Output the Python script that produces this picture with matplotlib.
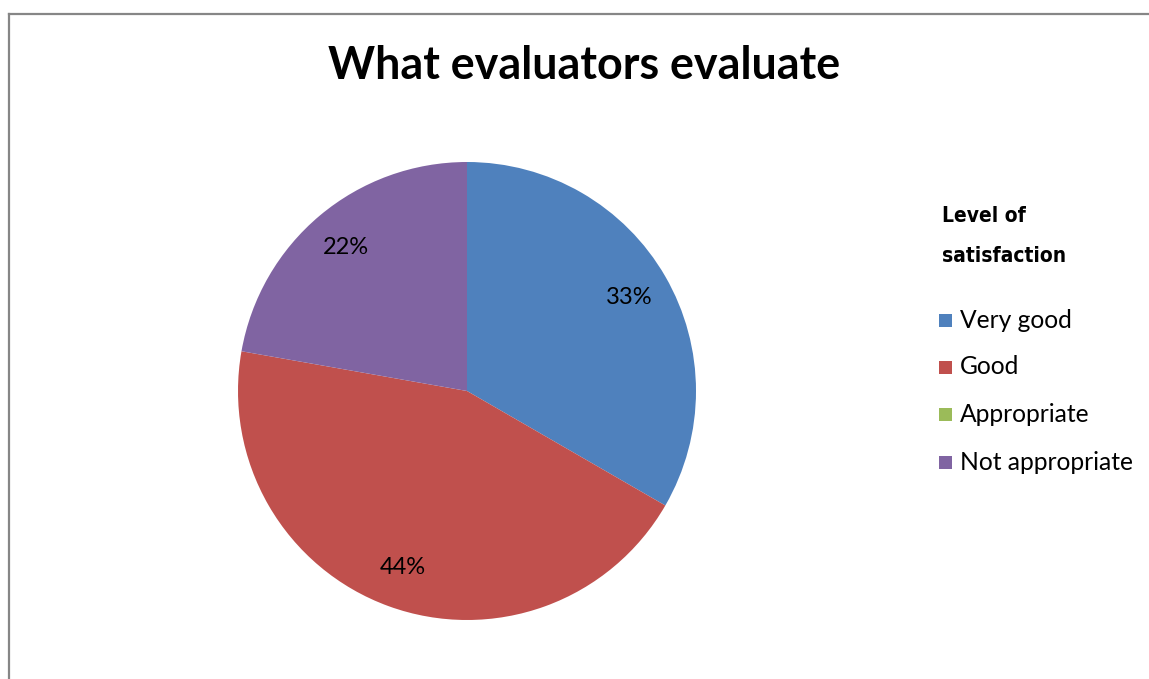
import matplotlib
matplotlib.use("Agg")
import matplotlib.pyplot as plt
from matplotlib.patches import Rectangle
from matplotlib.lines import Line2D

title = "What evaluators evaluate"
legend_title = "Level of\nsatisfaction"
categories = ["Very good", "Good", "Appropriate", "Not appropriate"]
values = [33.3, 44.4, 0.0, 22.2]
colors = ["#4F81BD", "#C0504D", "#9BBB59", "#8064A2"]

W, H = 1149, 679
fig = plt.figure(figsize=(W / 100, H / 100), dpi=100)
fig.patch.set_facecolor("white")

# border (top and left visible)
fig.add_artist(Line2D([8.5 / W, 8.5 / W], [0, 1 - 13.5 / H], transform=fig.transFigure,
                      color="#868686", lw=1.6))
fig.add_artist(Line2D([8.5 / W, 1], [1 - 13.5 / H, 1 - 13.5 / H], transform=fig.transFigure,
                      color="#868686", lw=1.6))

cx, cy, r = 467, 679 - 391, 229
ax = fig.add_axes([(cx - r) / W, (cy - r) / H, 2 * r / W, 2 * r / H])

def fmt(p):
    return f"{p:.0f}%" if p > 0.5 else ""

wedges, texts, autotexts = ax.pie(values, colors=colors, startangle=90, counterclock=False,
                                  autopct=fmt, pctdistance=0.82,
                                  wedgeprops=dict(linewidth=0),
                                  textprops=dict(fontsize=17, family="Lato", color="black"))
ax.set_xlim(-1, 1)
ax.set_ylim(-1, 1)
ax.set_aspect("equal")

fig.text(584 / W, 1 - 66 / H, title, ha="center", va="center", fontsize=32.3,
         fontweight="bold", family="Lato")

fig.text(942 / W, 1 - 236 / H, legend_title, ha="left", va="center", fontsize=15,
         fontweight="bold", fontstretch="condensed", family="DejaVu Sans", linespacing=2.3)

ys = [320, 367, 414, 462]
for cat, col, y in zip(categories, colors, ys):
    fig.add_artist(Rectangle(((939) / W, 1 - (y + 6.5) / H), 13 / W, 13 / H,
                             transform=fig.transFigure, facecolor=col, edgecolor="none"))
    fig.text(960 / W, 1 - y / H, cat, ha="left", va="center", fontsize=17.7, family="Lato")

fig.savefig("out.png", dpi=100)
